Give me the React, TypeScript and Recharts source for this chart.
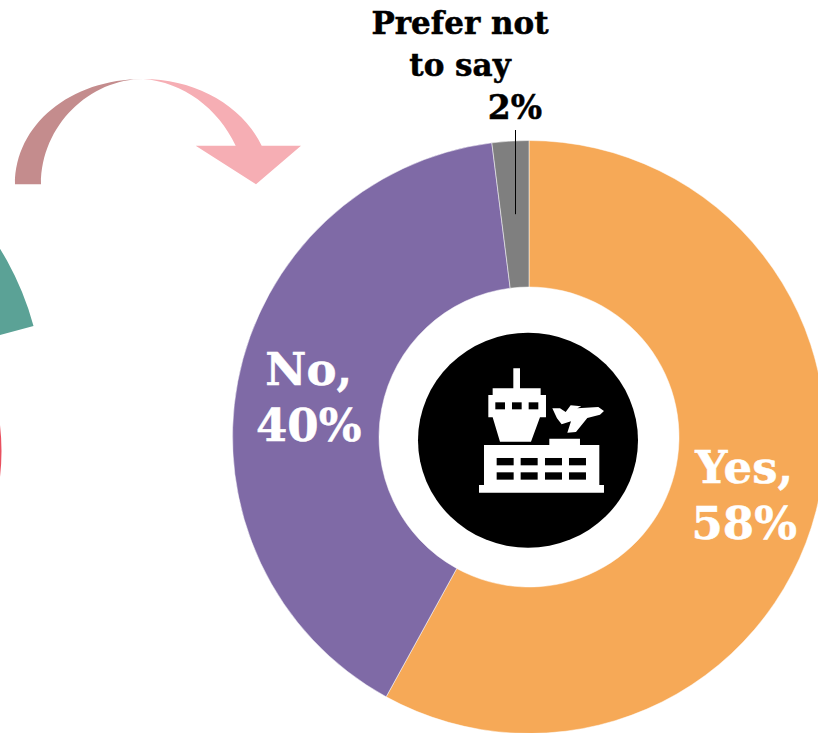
import { PieChart, Pie, Cell } from 'recharts'

const answers = ['Yes', 'No', 'Prefer not to say']
const shares = [58, 40, 2]
const sliceColors = ['#F6A957', '#7F6AA6', '#7F7F7F']

// Edges of the neighbouring donut that run off the left side of the page
const neighbourTeal = [{ name: 'teal', value: 1 }]
const neighbourRed = [{ name: 'red', value: 1 }]

const data = answers.map((name, i) => ({ name, value: shares[i] }))

const SERIF = '"DejaVu Serif", serif'
const RAD = Math.PI / 180

function SliceLabel(props: any) {
  const { cx, cy, midAngle, innerRadius, outerRadius, index, value } = props
  const r = (innerRadius + outerRadius) / 2
  const x = cx + r * Math.cos(-midAngle * RAD)
  const y = cy + r * Math.sin(-midAngle * RAD)

  if (index === 2) {
    // small slice: label sits above the ring with a leader line
    const lineX = Math.round(x) + 0.5
    return (
      <g fontFamily={SERIF} fontWeight={700} fontSize={31} fill="#000" stroke="#000" strokeWidth={0.5} textAnchor="middle">
        <line x1={lineX} y1={y} x2={lineX} y2={130} strokeWidth={1} />
        <text x={460} y={34}>Prefer not</text>
        <text x={460} y={76}>to say</text>
        <text x={x} y={119} fontSize={33}>{value}%</text>
      </g>
    )
  }
  return (
    <g fontFamily={SERIF} fontWeight={700} fontSize={45} fill="#fff" stroke="#fff" strokeWidth={0.5} textAnchor="middle">
      <text x={x - 1} y={y - 10}>{answers[index]},</text>
      <text x={x - 1} y={y + 46}>{value}%</text>
    </g>
  )
}

function AirportIcon() {
  return (
    <g transform="translate(420 330) scale(0.3333)" fill="#fff">
      <path d="M280 115H300V175H362V195H378V262H360L333 335H240L218 262H205V195H218V175H280Z" />
      <path d="M192 345H388V326H480V345H538V465H552V488H177V465H192Z" />
      <path d="M397 235H420L437 246L452 226L484 229L472 235L535 231L552 243L540 254L502 264L468 306L442 308L453 274L425 283L411 265Z" />
      {[226, 276, 326].map((x) => (
        <rect key={x} x={x} y={217} width={29} height={21} fill="#000" />
      ))}
      {[384, 427].map((y) =>
        [230, 302, 375, 447].map((x) => (
          <rect key={`${x}-${y}`} x={x} y={y} width={51} height={22} fill="#000" />
        )),
      )}
    </g>
  )
}

export default function App() {
  return (
    <div style={{ position: 'absolute', left: 0, top: 0, width: 818, height: 733, overflow: 'hidden', background: '#fff' }}>
      <PieChart width={818} height={733} margin={{ top: 0, right: 0, bottom: 0, left: 0 }}>
        <Pie
          data={neighbourTeal}
          dataKey="value"
          cx={-252}
          cy={404}
          innerRadius={150}
          outerRadius={296}
          startAngle={15.3}
          endAngle={70}
          fill="#5BA296"
          stroke="none"
          isAnimationActive={false}
        />
        <Pie
          data={neighbourRed}
          dataKey="value"
          cx={-223.5}
          cy={451}
          innerRadius={200}
          outerRadius={225}
          startAngle={-20}
          endAngle={20}
          fill="#E8505F"
          stroke="none"
          isAnimationActive={false}
        />
        <Pie
          data={data}
          dataKey="value"
          cx={529}
          cy={437}
          innerRadius={150}
          outerRadius={296.5}
          startAngle={90}
          endAngle={-270}
          stroke="#fff"
          strokeWidth={0.5}
          label={SliceLabel}
          labelLine={false}
          isAnimationActive={false}
        >
          {data.map((d, i) => (
            <Cell key={d.name} fill={sliceColors[i]} />
          ))}
        </Pie>
      </PieChart>
      <svg width={818} height={733} style={{ position: 'absolute', left: 0, top: 0, pointerEvents: 'none' }}>
        <path d="M15 184.3C15 125 70 79 143.3 79C90 79 41 125 41 184.3Z" fill="#C48C8D" />
        <path d="M143.3 79C195 79 242 105 261.7 145.7H301L256 184.3L195.7 145.7H235.7C218 108 183 82 143.3 79Z" fill="#F6AEB4" />
        <ellipse cx={528} cy={440.3} rx={110} ry={107.5} fill="#000" />
        <AirportIcon />
      </svg>
    </div>
  )
}
